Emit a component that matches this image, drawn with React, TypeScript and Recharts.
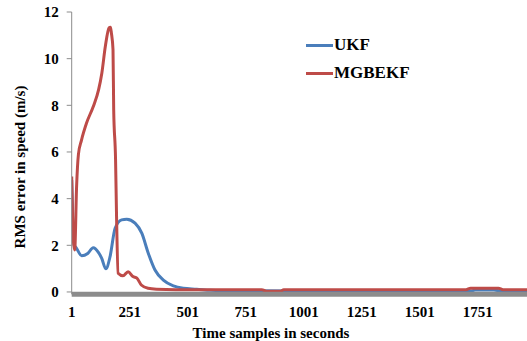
import React from 'react';
import { LineChart, Line, XAxis, YAxis } from 'recharts';

// sample index (x) and RMS speed error (m/s)
const ukfT = [1, 5, 12, 20, 44, 70, 94, 116, 130, 148, 166, 188, 216, 238, 274, 303, 331, 360, 396, 439, 482, 540, 600, 700, 1000, 1500, 1720, 1740, 1820, 1850, 1963];
const ukfRms = [4.8, 3.4, 2.0, 1.9, 1.55, 1.65, 1.9, 1.7, 1.45, 0.99, 1.5, 2.73, 3.09, 3.12, 2.95, 2.52, 1.66, 0.94, 0.51, 0.26, 0.16, 0.12, 0.07, 0.05, 0.04, 0.04, 0.04, 0.08, 0.08, 0.04, 0.04];

const mgbT = [1, 8, 14, 22, 30, 43, 65, 94, 117, 131, 146, 162, 168, 172, 179, 182, 190, 194, 201, 222, 244, 265, 282, 301, 330, 366, 450, 600, 820, 840, 900, 915, 1700, 1720, 1840, 1860, 1963];
const mgbRms = [4.95, 2.2, 1.8, 4.5, 5.9, 6.5, 7.24, 7.95, 8.67, 9.39, 10.53, 11.32, 11.35, 11.1, 10.39, 7.8, 5.67, 3.38, 0.8, 0.69, 0.87, 0.66, 0.59, 0.3, 0.16, 0.12, 0.1, 0.1, 0.1, 0.03, 0.03, 0.1, 0.1, 0.16, 0.16, 0.1, 0.1];

const xTicks = [1, 251, 501, 751, 1001, 1251, 1501, 1751];
const yTicks = [0, 2, 4, 6, 8, 10, 12];

const ukfData = ukfT.map((t, i) => ({ t, v: ukfRms[i] }));
const mgbData = mgbT.map((t, i) => ({ t, v: mgbRms[i] }));

const BLUE = '#4a7ebb';
const RED = '#be4b48';
const serif = 'Liberation Serif';

const tickStyle = { fontFamily: serif, fontWeight: 700, fontSize: 15, fill: '#000' };
const titleStyle = { fontFamily: serif, fontWeight: 700, fontSize: 15, fill: '#000' };

const YLabel = () => (
  <text x={20} y={167} transform="rotate(-90 20 167)" textAnchor="middle" dominantBaseline="central" fontFamily={serif} style={titleStyle}>
    RMS error in speed (m/s)
  </text>
);

const XLabel = () => (
  <text x={271} y={333} textAnchor="middle" dominantBaseline="central" fontFamily={serif} style={titleStyle}>
    Time samples in seconds
  </text>
);

export default function App() {
  return (
    <div style={{ position: 'absolute', left: 0, top: 0, width: 527, height: 341, background: '#fff', fontFamily: serif }}>
      <LineChart width={527} height={341} margin={{ top: 12, right: 0, bottom: 0, left: 0 }} style={{ fontFamily: serif }}>
        <XAxis
          dataKey="t"
          type="number"
          domain={[1, 1963]}
          ticks={xTicks}
          allowDataOverflow
          height={46.7}
          axisLine={{ stroke: '#8c8c8c', strokeWidth: 5 }}
          tickLine={false}
          tickSize={0}
          tickMargin={12}
          tick={tickStyle}
          label={<XLabel />}
        />
        <YAxis
          type="number"
          domain={[-0.1, 12]}
          ticks={yTicks}
          allowDataOverflow
          width={71.7}
          axisLine={{ stroke: '#8c8c8c' }}
          tickLine={{ stroke: '#8c8c8c' }}
          tickSize={5}
          tickMargin={8}
          tick={tickStyle}
          label={<YLabel />}
        />
        <Line data={ukfData} dataKey="v" type="monotone" stroke={BLUE} strokeWidth={3} dot={false} isAnimationActive={false} />
        <Line data={mgbData} dataKey="v" type="monotone" stroke={RED} strokeWidth={3} dot={false} isAnimationActive={false} />
      </LineChart>
      <div style={{ position: 'absolute', left: 306, top: 31, fontFamily: serif, fontWeight: 700, fontSize: 17, lineHeight: '28px' }}>
        <div style={{ display: 'flex', alignItems: 'center' }}>
          <span style={{ width: 27, height: 3, background: BLUE, display: 'inline-block', marginRight: 1 }} />
          <span>UKF</span>
        </div>
        <div style={{ display: 'flex', alignItems: 'center' }}>
          <span style={{ width: 27, height: 3, background: RED, display: 'inline-block', marginRight: 1 }} />
          <span>MGBEKF</span>
        </div>
      </div>
    </div>
  );
}
